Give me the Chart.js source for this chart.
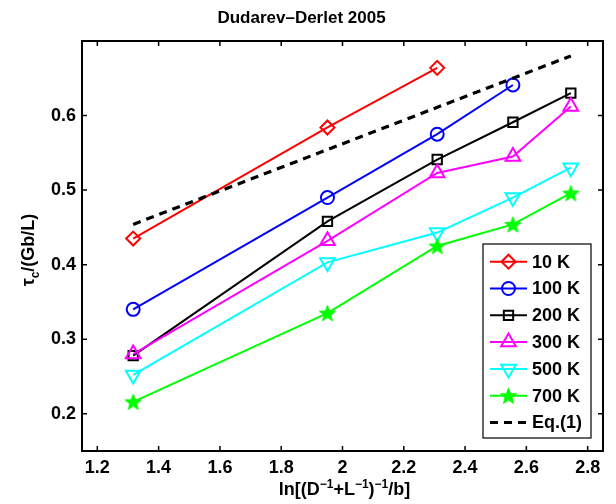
<!DOCTYPE html>
<html><head><meta charset="utf-8">
<script src="https://cdn.jsdelivr.net/npm/chart.js@4.4.0/dist/chart.umd.min.js"></script>
<style>html,body{margin:0;padding:0;background:#fff}#wrap{width:616px;height:504px}</style>
</head><body><div id="wrap"><canvas id="c" width="616" height="504"></canvas></div>
<script>
// ---- data ----
const xValues = [1.317, 1.951, 2.309, 2.556, 2.745];
const series10K  = [0.435, 0.584, 0.664];
const series100K = [0.340, 0.490, 0.575, 0.641];
const series200K = [0.278, 0.458, 0.541, 0.591, 0.630];
const series300K = [0.280, 0.432, 0.523, 0.545, 0.612];
const series500K = [0.252, 0.403, 0.443, 0.490, 0.530];
const series700K = [0.216, 0.335, 0.425, 0.454, 0.496];
const eqX = [1.317, 2.745];
const eqY = [0.454, 0.680];
const seriesLabels = ['10 K', '100 K', '200 K', '300 K', '500 K', '700 K', 'Eq.(1)'];
const xTicks = [1.2, 1.4, 1.6, 1.8, 2, 2.2, 2.4, 2.6, 2.8];
const yTicks = [0.2, 0.3, 0.4, 0.5, 0.6];
const titleText = 'Dudarev\u2013Derlet 2005';

// ---- styling ----
const FONT = "'Liberation Sans', Arial, Helvetica, sans-serif";
function makeStar(color, r) {
  const size = Math.ceil(2 * r + 4);
  const cv = document.createElement('canvas');
  cv.width = size; cv.height = size;
  const c = cv.getContext('2d');
  const cx = size / 2, cy = size / 2 + 0.8;
  c.beginPath();
  for (let i = 0; i < 10; i++) {
    const rad = (i % 2 === 0) ? r : r * 0.42;
    const a = -Math.PI / 2 + i * Math.PI / 5;
    const px = cx + rad * Math.cos(a), py = cy + rad * Math.sin(a);
    if (i === 0) c.moveTo(px, py); else c.lineTo(px, py);
  }
  c.closePath();
  c.fillStyle = color; c.fill();
  c.strokeStyle = color; c.lineWidth = 1; c.stroke();
  return cv;
}
const starImg = makeStar('#00ff00', 8.5);

const styles = [
  { color: '#ff0000', pointStyle: 'rectRot', radius: 7, rotation: 0 },
  { color: '#0000ff', pointStyle: 'circle', radius: 6.5, rotation: 0 },
  { color: '#000000', pointStyle: 'rect', radius: 6.6, rotation: 0 },
  { color: '#ff00ff', pointStyle: 'triangle', radius: 8.5, rotation: 0 },
  { color: '#00ffff', pointStyle: 'triangle', radius: 8.5, rotation: 180 },
  { color: '#00ff00', pointStyle: starImg, radius: 8.5, rotation: 0 },
];
const seriesValues = [series10K, series100K, series200K, series300K, series500K, series700K];

const datasets = seriesValues.map((vals, i) => ({
  label: seriesLabels[i],
  data: vals.map((v, k) => ({ x: xValues[k], y: v })),
  borderColor: styles[i].color,
  backgroundColor: 'rgba(0,0,0,0)',
  borderWidth: 2,
  pointStyle: styles[i].pointStyle,
  pointRadius: styles[i].radius,
  pointRotation: styles[i].rotation,
  pointBorderWidth: 2,
  pointBorderColor: styles[i].color,
  pointBackgroundColor: 'rgba(0,0,0,0)',
  showLine: true,
  fill: false,
  tension: 0,
  order: 10 - i,
}));
datasets.push({
  label: seriesLabels[6],
  data: eqX.map((x, k) => ({ x: x, y: eqY[k] })),
  borderColor: '#000000',
  borderWidth: 3.2,
  borderDash: [8, 6],
  pointRadius: 0,
  showLine: true,
  fill: false,
  order: 0,
});

// Inward ticks + box
const boxPlugin = {
  id: 'boxTicks',
  afterDatasetsDraw(chart) {
    const { ctx, chartArea: a, scales } = chart;
    ctx.save();
    ctx.strokeStyle = '#000';
    ctx.lineWidth = 2;
    ctx.strokeRect(a.left, a.top, a.right - a.left, a.bottom - a.top);
    ctx.lineWidth = 1.5;
    const L = 5;
    ctx.beginPath();
    scales.x.ticks.forEach(t => {
      const px = scales.x.getPixelForValue(t.value);
      ctx.moveTo(px, a.bottom); ctx.lineTo(px, a.bottom - L);
      ctx.moveTo(px, a.top); ctx.lineTo(px, a.top + L);
    });
    scales.y.ticks.forEach(t => {
      const py = scales.y.getPixelForValue(t.value);
      ctx.moveTo(a.left, py); ctx.lineTo(a.left + L, py);
      ctx.moveTo(a.right, py); ctx.lineTo(a.right - L, py);
    });
    ctx.stroke();
    ctx.restore();
  }
};

// Axis titles with sub/superscripts
function drawRich(ctx, parts, cx, cy, size) {
  const fMain = 'bold ' + size + 'px ' + FONT;
  const fSmall = 'bold ' + Math.round(size * 0.68) + 'px ' + FONT;
  let total = 0;
  parts.forEach(p => { ctx.font = p.s ? fSmall : fMain; p.w = ctx.measureText(p.t).width; total += p.w; });
  let x = cx - total / 2;
  ctx.textBaseline = 'alphabetic';
  ctx.textAlign = 'left';
  parts.forEach(p => {
    ctx.font = p.s ? fSmall : fMain;
    ctx.fillText(p.t, x, cy + (p.s || 0));
    x += p.w;
  });
}
const labelPlugin = {
  id: 'axisLabels',
  afterDraw(chart) {
    const { ctx, chartArea: a } = chart;
    ctx.save();
    ctx.fillStyle = '#000';
    drawRich(ctx, [
      { t: 'ln[(D' }, { t: '\u22121', s: -7 }, { t: '+L' }, { t: '\u22121', s: -7 },
      { t: ')' }, { t: '\u22121', s: -7 }, { t: '/b]' }
    ], (a.left + a.right) / 2 + 2, 495, 18);
    ctx.translate(34, (a.top + a.bottom) / 2 + 4);
    ctx.rotate(-Math.PI / 2);
    drawRich(ctx, [{ t: '\u03c4' }, { t: 'c', s: 5 }, { t: '/(Gb/L)' }], 0, 0, 18);
    ctx.restore();
  }
};

// Legend inside the axes
const legendPlugin = {
  id: 'boxLegend',
  afterDraw(chart) {
    const { ctx, chartArea: a } = chart;
    const right = a.right - 12, bottom = a.bottom - 13;
    const w = 108, h = 194;
    const left = right - w, top = bottom - h;
    ctx.save();
    ctx.fillStyle = '#fff';
    ctx.fillRect(left, top, w, h);
    ctx.strokeStyle = '#000';
    ctx.lineWidth = 1.2;
    ctx.strokeRect(left, top, w, h);
    const rowH = 26.8;
    chart.data.datasets.forEach((ds, i) => {
      const y = top + 17.7 + i * rowH;
      const x0 = left + 7, x1 = left + 44;
      ctx.save();
      ctx.strokeStyle = ds.borderColor;
      ctx.lineWidth = ds.borderWidth;
      if (ds.borderDash) ctx.setLineDash(ds.borderDash);
      ctx.beginPath(); ctx.moveTo(x0, y); ctx.lineTo(x1, y); ctx.stroke();
      ctx.setLineDash([]);
      if (ds.pointRadius > 0) {
        ctx.lineWidth = ds.pointBorderWidth;
        ctx.fillStyle = 'rgba(0,0,0,0)';
        Chart.helpers.drawPoint(ctx, {
          pointStyle: ds.pointStyle, radius: ds.pointRadius,
          rotation: ds.pointRotation, borderWidth: ds.pointBorderWidth
        }, (x0 + x1) / 2, y);
      }
      ctx.restore();
      ctx.fillStyle = '#000';
      ctx.font = 'bold 18px ' + FONT;
      ctx.textBaseline = 'middle';
      ctx.textAlign = 'left';
      ctx.fillText(ds.label, left + 49, y + 1);
    });
    ctx.restore();
  }
};

new Chart(document.getElementById('c'), {
  type: 'line',
  data: { datasets },
  options: {
    responsive: false,
    animation: false,
    devicePixelRatio: 1,
    layout: { padding: { left: 0, right: 13, top: 0, bottom: 0 } },
    plugins: {
      legend: { display: false },
      tooltip: { enabled: false },
      title: {
        display: true, text: titleText, color: '#000',
        font: { family: FONT, size: 17, weight: 'bold' },
        padding: { top: 8, bottom: 12.6 }
      }
    },
    scales: {
      x: {
        type: 'linear', min: 1.15, max: 2.85,
        afterBuildTicks: s => { s.ticks = xTicks.map(v => ({ value: v })); },
        afterFit: s => { s.height = 53; },
        grid: { display: false, drawTicks: false },
        border: { display: false },
        ticks: { color: '#000', font: { family: FONT, size: 18, weight: 'bold' }, padding: 6,
                 maxRotation: 0, autoSkip: false, callback: v => String(v) }
      },
      y: {
        type: 'linear', min: 0.15, max: 0.70,
        afterBuildTicks: s => { s.ticks = yTicks.map(v => ({ value: v })); },
        afterFit: s => { s.width = 82; },
        grid: { display: false, drawTicks: false },
        border: { display: false },
        ticks: { color: '#000', font: { family: FONT, size: 18, weight: 'bold' }, padding: 6,
                 autoSkip: false, callback: v => v.toFixed(1) }
      }
    }
  },
  plugins: [boxPlugin, labelPlugin, legendPlugin]
});
</script>
</body></html>
